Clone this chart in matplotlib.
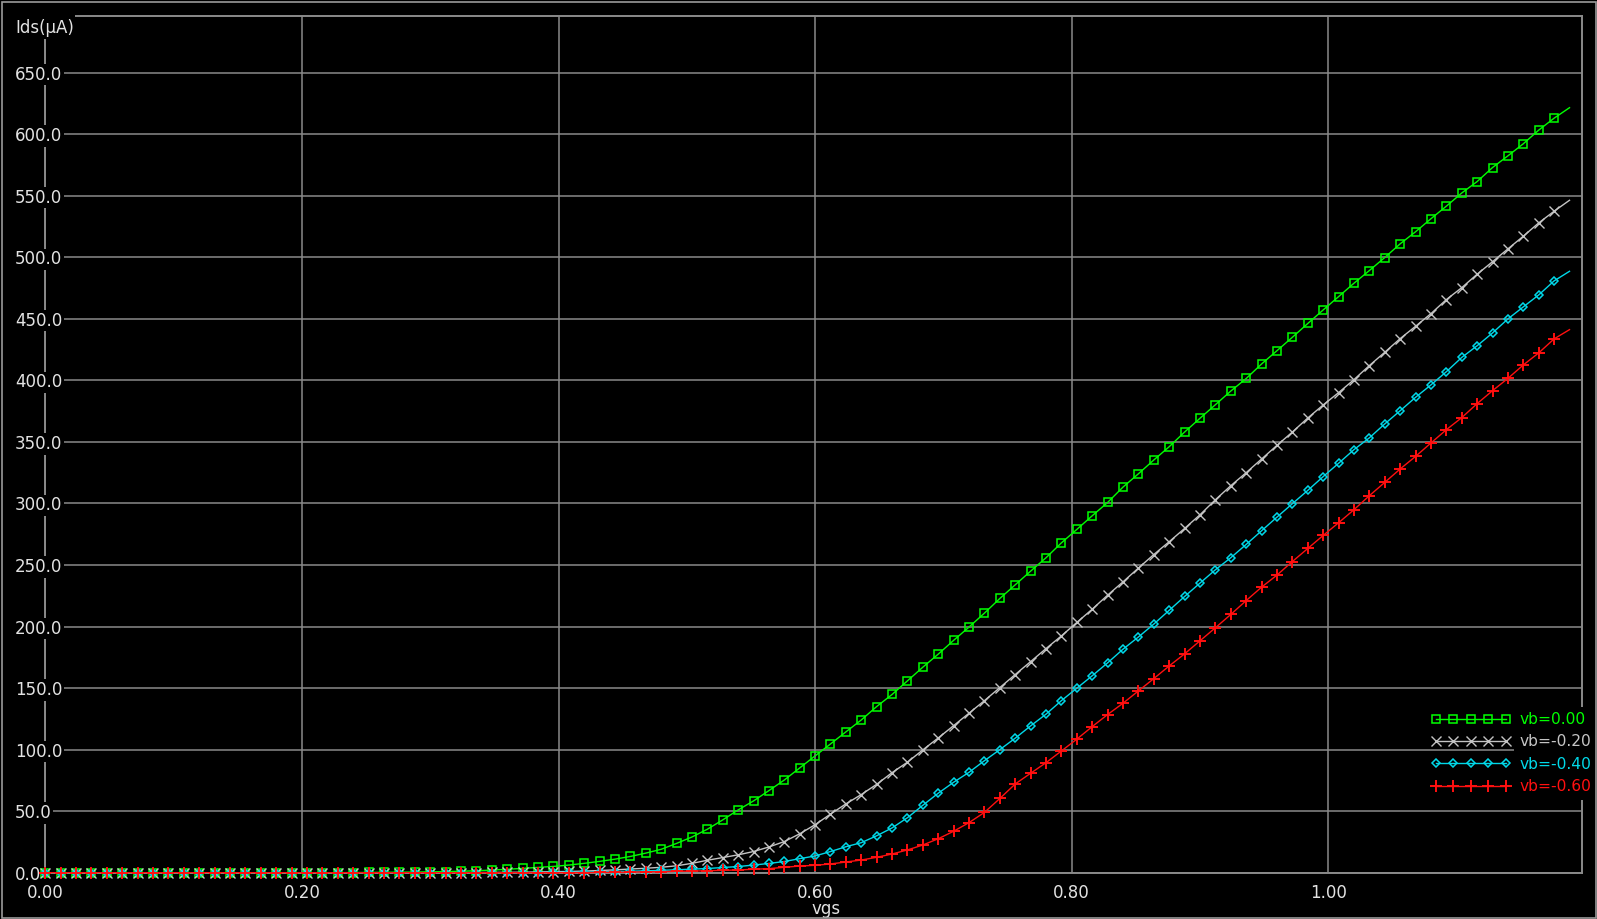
import numpy as np
import matplotlib
matplotlib.use('Agg')
import matplotlib.pyplot as plt
from matplotlib.patches import Rectangle

# vgs sweep: 0 .. 1.188 V, 100 points
vgs = np.linspace(0.0, 1.188, 100)

# Ids (uA) for each bulk voltage
ids_vb_000 = [0.0] * 20 + [
    0.1, 0.2, 0.3, 0.4, 0.5, 0.7, 0.9, 1.2, 1.6, 2.1,
    2.8, 3.5, 4.3, 5.1, 6.2, 7.6, 9.2, 11.0, 13.2, 15.9,
    19.0, 23.8, 29.0, 35.3, 42.9, 51.0, 58.3, 66.7, 75.3, 85.1,
    94.9, 104.6, 114.4, 124.1, 135.0, 144.8, 155.9, 167.0, 177.6, 188.8,
    199.6, 210.9, 222.8, 233.9, 245.0, 255.9, 268.0, 278.9, 290.0, 300.8,
    313.3, 324.1, 335.3, 346.1, 358.0, 369.2, 380.2, 391.3, 401.5, 413.3,
    424.1, 435.0, 446.2, 457.2, 468.0, 478.9, 489.2, 499.8, 510.9, 520.7,
    531.3, 541.5, 552.2, 561.5, 572.9, 582.4, 592.2, 603.3, 613.0, 621.5]

ids_vb_020 = [0.0] * 28 + [
    0.1, 0.2,
    0.3, 0.4, 0.6, 0.8, 1.0, 1.3, 1.8, 2.3, 3.0, 3.6,
    4.4, 5.6, 7.6, 10.1, 12.3, 14.5, 17.2, 20.9, 25.3, 31.6,
    39.0, 47.6, 55.9, 63.5, 71.8, 81.3, 89.8, 99.8, 109.5, 119.5,
    129.6, 139.8, 150.4, 161.0, 171.5, 182.1, 192.4, 203.3, 214.1, 225.5,
    236.3, 247.5, 258.5, 268.9, 279.7, 290.8, 303.0, 314.4, 325.0, 336.1,
    347.2, 358.0, 369.4, 380.0, 390.0, 400.6, 412.0, 422.8, 433.9, 443.9,
    454.2, 465.6, 475.3, 486.2, 496.4, 506.8, 517.1, 527.9, 537.4, 546.3]

ids_vb_040 = [0.0] * 32 + [
    0.1, 0.2, 0.3, 0.5, 0.7, 0.9, 1.2, 1.5,
    1.9, 2.4, 2.9, 3.4, 4.2, 5.0, 6.2, 7.5, 9.1, 11.4,
    13.6, 17.2, 21.1, 24.4, 30.0, 36.4, 44.7, 54.8, 64.6, 73.5,
    81.6, 91.0, 100.0, 109.3, 119.3, 128.8, 139.8, 149.9, 160.0, 170.5,
    181.6, 191.5, 202.0, 213.2, 224.4, 235.3, 246.1, 255.9, 266.7, 277.8,
    288.9, 299.8, 310.6, 321.8, 332.6, 343.7, 353.3, 364.6, 375.3, 386.2,
    396.3, 407.0, 418.6, 428.1, 438.5, 449.9, 459.7, 469.4, 480.8, 488.6]

ids_vb_060 = [0.0] * 35 + [
    0.1, 0.2, 0.3, 0.5, 0.7,
    0.9, 1.1, 1.3, 1.6, 1.9, 2.2, 2.8, 3.3, 4.4, 5.4,
    6.0, 7.1, 8.7, 10.3, 12.5, 15.2, 18.5, 22.5, 27.6, 33.7,
    40.7, 49.0, 60.3, 72.1, 80.8, 89.4, 98.9, 108.5, 118.7, 128.5,
    137.7, 147.7, 157.7, 168.0, 177.8, 188.4, 199.0, 209.8, 221.1, 232.0,
    241.8, 252.8, 263.4, 274.0, 284.3, 294.9, 306.3, 317.1, 328.0, 338.2,
    349.1, 359.9, 369.7, 381.1, 391.6, 401.6, 412.5, 422.3, 433.7, 441.2]

labels = ['vb=0.00', 'vb=-0.20', 'vb=-0.40', 'vb=-0.60']
xticks = [0.0, 0.2, 0.4, 0.6, 0.8, 1.0]
xtick_labels = ['0.00', '0.20', '0.40', '0.60', '0.80', '1.00']
yticks = [0, 50, 100, 150, 200, 250, 300, 350, 400, 450, 500, 550, 600, 650]
ytick_labels = [f'{v:.1f}' for v in yticks]

# === styling === #
W, H = 1597, 919
fig = plt.figure(figsize=(W / 100, H / 100), dpi=100, facecolor='black')
ax = fig.add_axes([45.3 / W, 1 - 872.7 / H, (1581.7 - 45.3) / W, (872.7 - 16) / H])
ax.set_facecolor('black')

grid_col = '#8a8a8a'
text_col = '#e2e2e2'
plt.rcParams['font.family'] = ['DejaVu Sans']

styles = [
    dict(color='#00ff00', marker='s', ms=5.6, mfc='none', mew=1.1),
    dict(color='#c4c4c4', marker='x', ms=6.5, mew=1.0),
    dict(color='#00d8e8', marker='D', ms=4.2, mfc='none', mew=1.1),
    dict(color='#ff1010', marker='+', ms=9.0, mew=1.4),
]
series = [ids_vb_000, ids_vb_020, ids_vb_040, ids_vb_060]

for ys, lab, st in zip(series, labels, styles):
    ax.plot(vgs, ys, '-', lw=1.0, label=lab, markevery=slice(0, 99),
            clip_on=False, zorder=3, **st)

ax.set_xlim(0, 1.1975)
ax.set_ylim(0, 696)

# grid + tick labels at 1.5, frame under them so the labels cover it
ax.grid(True, color=grid_col, lw=1.1)
ax.set_axisbelow('line')
for s in ax.spines.values():
    s.set_color(grid_col)
    s.set_linewidth(1.4)
    s.set_zorder(1.0)

ax.set_xticks(xticks, xtick_labels)
ax.set_yticks(yticks, ytick_labels)
ax.tick_params(axis='both', length=0, colors=text_col, labelsize=12)
ax.tick_params(axis='x', pad=8.2)
ax.tick_params(axis='y', pad=21.8)
for t in ax.get_yticklabels():
    t.set_horizontalalignment('left')
    t.set_bbox(dict(facecolor='black', edgecolor='none', boxstyle='square,pad=0.1'))

ax.set_xlabel('vgs', color=text_col, fontsize=12)
ax.xaxis.set_label_coords((826 - 45.3) / (1581.7 - 45.3), (872.7 - 913.5) / 856.7)
ax.xaxis.label.set_va('baseline')

# y axis title sits in the top-left corner, over the frame
fig.patches.append(Rectangle((0, 1 - 39 / H), 75 / W, 25 / H, transform=fig.transFigure,
                             facecolor='black', edgecolor='none', zorder=5))
fig.text(15 / W, 1 - 28 / H, 'Ids(μA)', color=text_col, fontsize=12,
         ha='left', va='center', zorder=6)

leg = ax.legend(loc='upper left', bbox_to_anchor=(1431 / W, 1 - 712 / H),
                bbox_transform=fig.transFigure, frameon=False, fontsize=11.2,
                numpoints=5, handlelength=5.1, handletextpad=0.6,
                borderpad=0, borderaxespad=0, labelspacing=0.48,
                labelcolor='linecolor')
leg.set_zorder(10)
for t in leg.get_texts():
    # text column sits on a black block that hides the frame behind it
    t.set_bbox(dict(facecolor='black', edgecolor='none', boxstyle='square,pad=0.35'))

# outer frame of the window
fig.patches.append(Rectangle((1.5 / W, 1.5 / H), 1 - 3 / W, 1 - 3 / H, transform=fig.transFigure,
                             facecolor='none', edgecolor='#9a9a9a', lw=1.2, zorder=7))

fig.savefig('out.png', dpi=100, facecolor='black')
